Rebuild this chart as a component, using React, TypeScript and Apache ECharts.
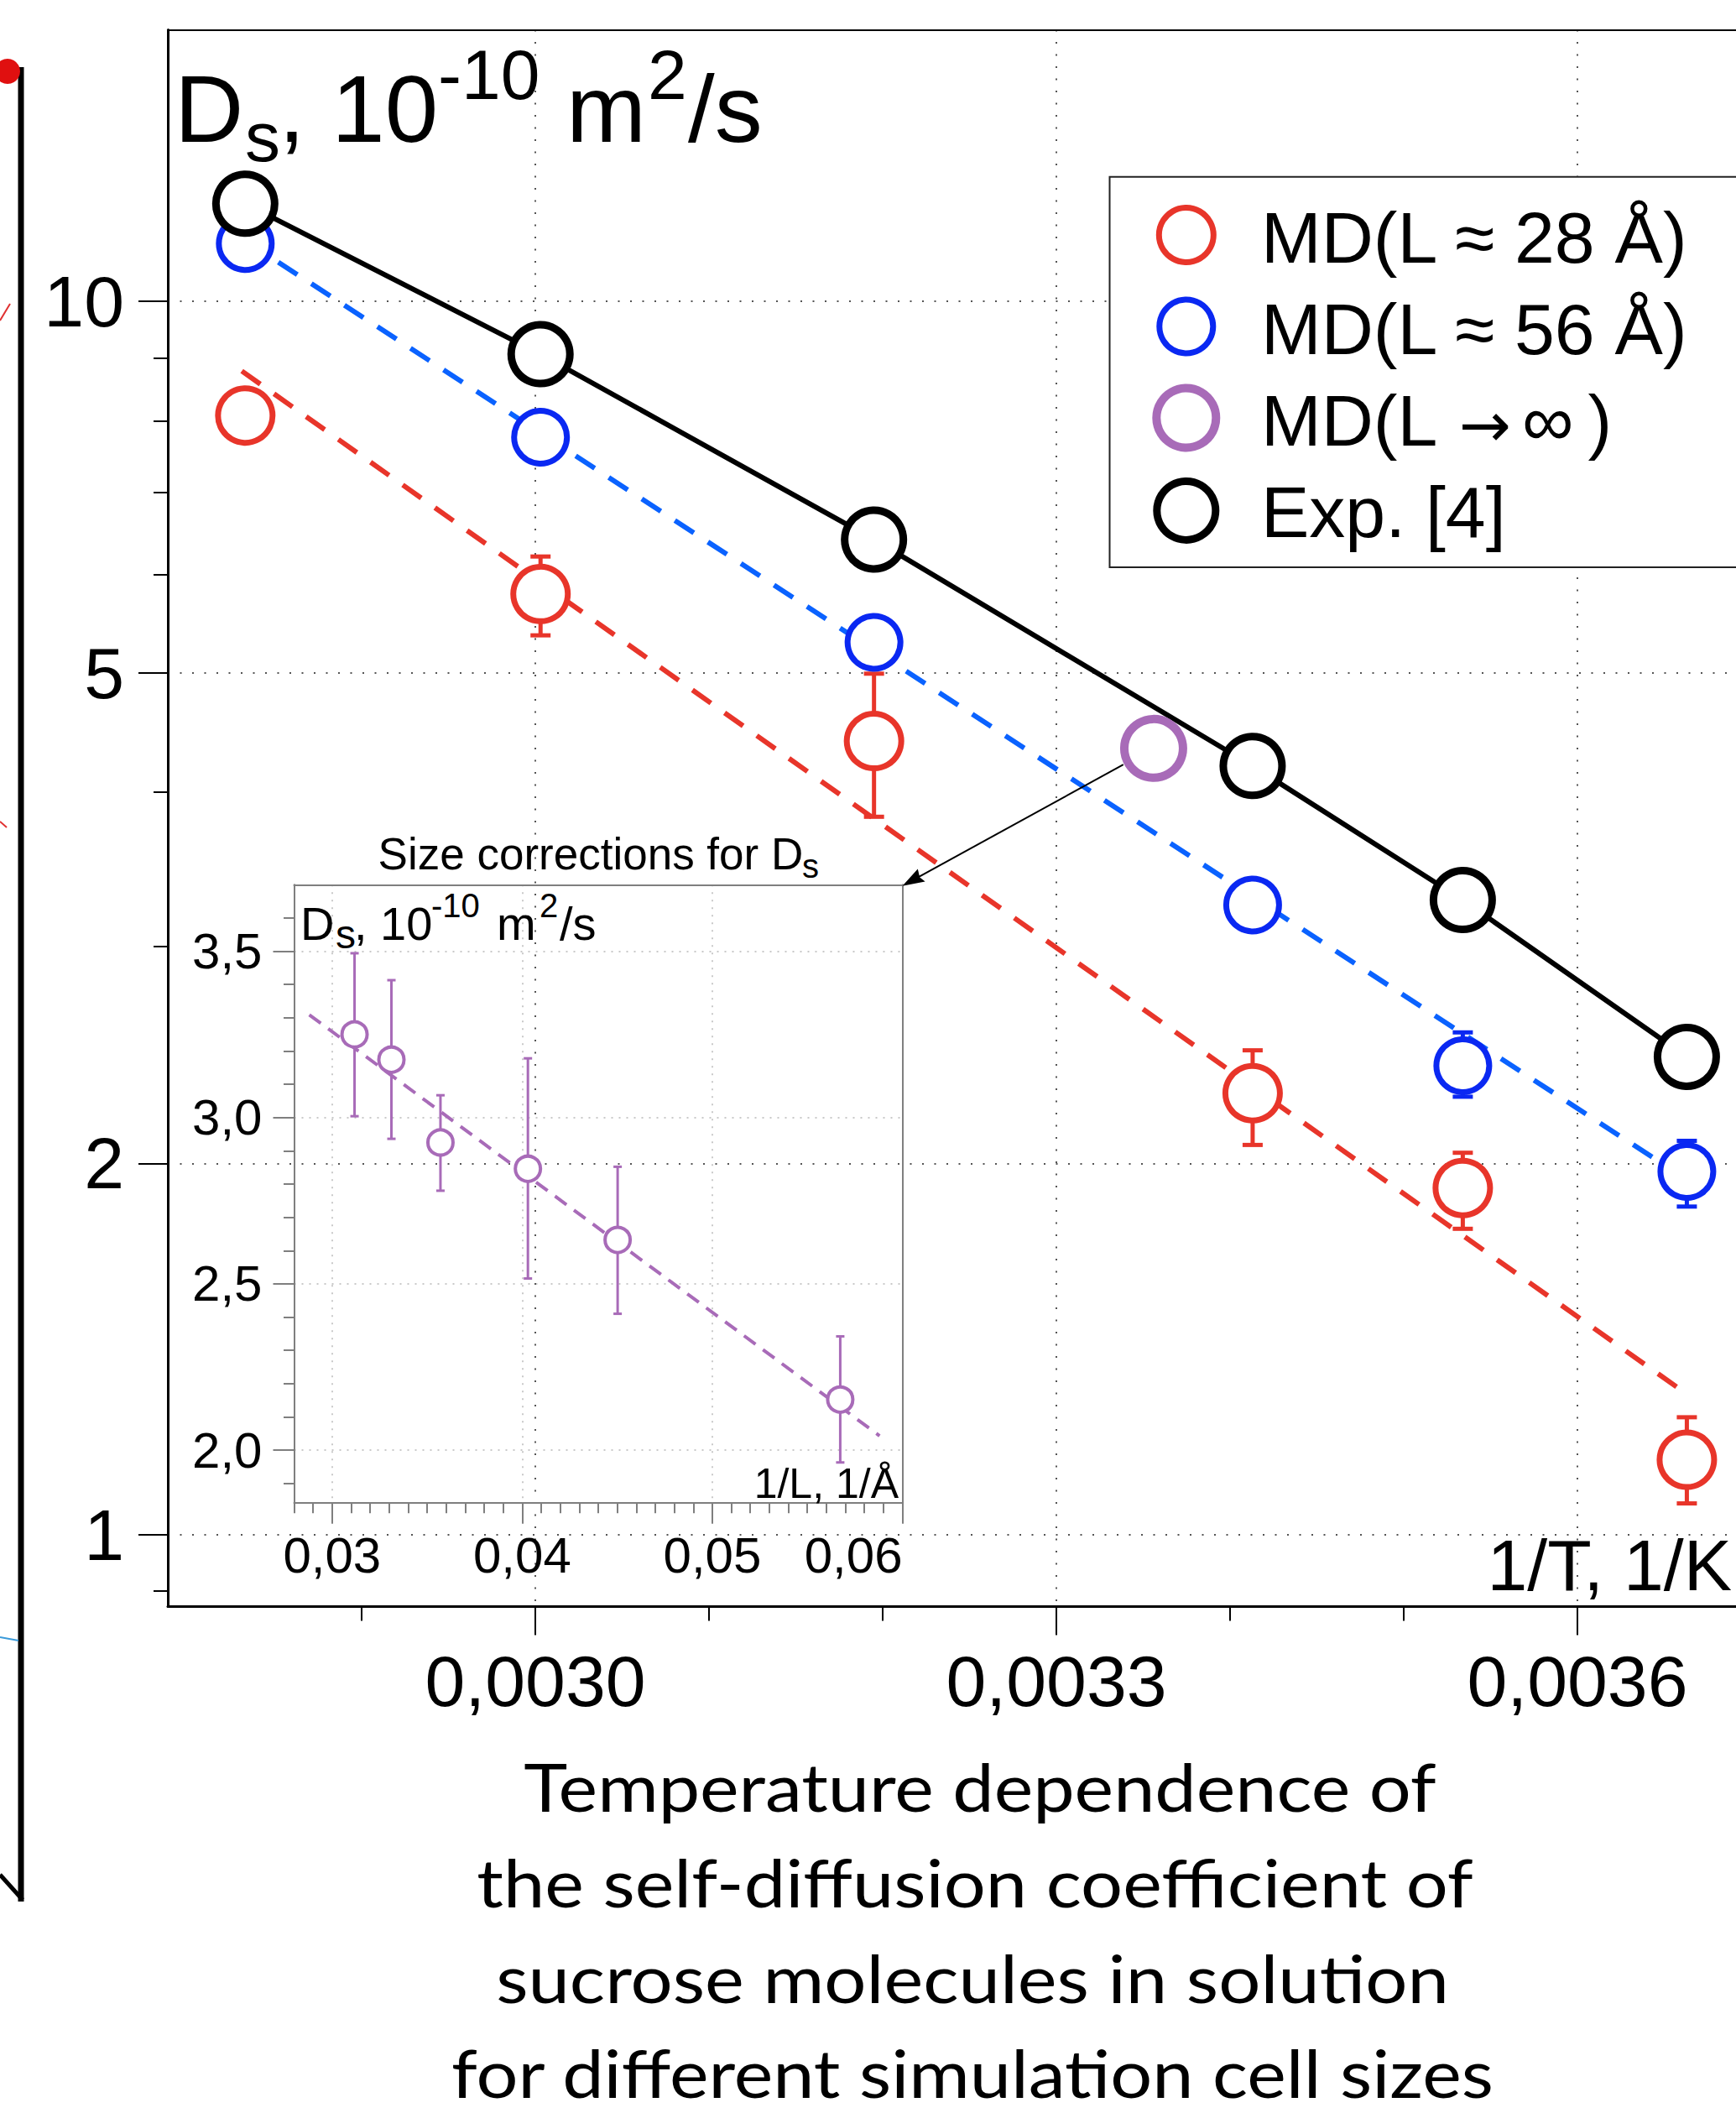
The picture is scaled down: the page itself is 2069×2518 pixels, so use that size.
import React, { useEffect, useRef } from 'react';
import * as echarts from 'echarts';

// ---------------- data ----------------
// main chart: x = 1/T (1/K), y = Ds (1e-10 m^2/s), log scale
const invT = [0.002833, 0.003003, 0.003195, 0.003413, 0.003534, 0.003663];
const dsExp = [12.0, 9.06, 6.41, 4.2, 3.27, 2.44];
const dsL56 = [11.14, 7.76, 5.29, 3.24, 2.4, 1.97];
const dsL28 = [8.08, 5.79, 4.4, 2.28, 1.91, 1.15];
const errL28Low = [null, 5.36, 3.82, 2.07, 1.77, 1.06];
const errL28High = [null, 6.21, 4.99, 2.47, 2.04, 1.245];
const errL56Low = [null, null, null, null, 2.265, 1.845];
const errL56High = [null, null, null, null, 2.554, 2.086];
const fitL28X = [0.002831, 0.003663];
const fitL28Y = [8.78, 1.3];
const fitL56X = [0.002833, 0.003663];
const fitL56Y = [11.2, 1.94];
const invTInf = [0.003356];
const dsInf = [4.34];

// inset: x = 1/L (1/Å), y = Ds
const invL = [0.03118, 0.03312, 0.0357, 0.0403, 0.04502, 0.05673];
const dsSize = [3.25, 3.174, 2.925, 2.846, 2.632, 2.152];
const dsSizeLow = [3.004, 2.936, 2.78, 2.516, 2.41, 1.963];
const dsSizeHigh = [3.494, 3.413, 3.067, 3.178, 2.852, 2.342];
const fitSizeX = [0.0288, 0.0588];
const fitSizeY = [3.309, 2.043];

// axes ranges and ticks
const mainXRange = [0.0027884, 0.0036913];
const mainYRange = [0.8743, 16.6];
const mainXMajor = [0.003, 0.0033, 0.0036];
const mainXMinor = [0.0029, 0.0031, 0.0032, 0.0034, 0.0035];
const mainYMajor = [1, 2, 5, 10];
const mainYMinor = [0.9, 3, 4, 6, 7, 8, 9];

const insetXRange = [0.028, 0.06];
const insetYRange = [1.842, 3.7];
const insetXMajor = [0.03, 0.04, 0.05, 0.06];
const insetXLabels = [0.03, 0.04, 0.05];
const insetXEdgeLabel = [0.06];
const insetXMinor = [
  0.028, 0.029, 0.031, 0.032, 0.033, 0.034, 0.035, 0.036, 0.037, 0.038, 0.039,
  0.041, 0.042, 0.043, 0.044, 0.045, 0.046, 0.047, 0.048, 0.049,
  0.051, 0.052, 0.053, 0.054, 0.055, 0.056, 0.057, 0.058, 0.059,
];
const insetYMajor = [2.0, 2.5, 3.0, 3.5];
const insetYMinor = [1.9, 2.1, 2.2, 2.3, 2.4, 2.6, 2.7, 2.8, 2.9, 3.1, 3.2, 3.3, 3.4, 3.6];

const legendLabels = ['MD(L \u2248 28 \u00C5)', 'MD(L \u2248 56 \u00C5)', 'MD(L \u2192 \u221E )', 'Exp. [4]'];
const captionLines = [
  'Temperature dependence of',
  'the self-diffusion coefficient of',
  'sucrose molecules in solution',
  'for different simulation cell sizes',
];

// ---------------- styling ----------------
const FONT = 'Liberation Sans';
const RED = '#e8352a';
const BLUE_C = '#0a28f2';
const BLUE_L = '#0a62ff';
const PURPLE = '#a86bb8';
const GRAY = '#7f7f7f';

const comma = (v: number, d: number) => v.toFixed(d).replace('.', ',');

function errorBars(xs: number[], lo: (number | null)[], hi: (number | null)[], color: string, lw: number, cap: number, xi: number, yi: number, z: number) {
  const data = xs.map((x, i) => [x, lo[i], hi[i]]).filter((d) => d[1] != null);
  return {
    type: 'custom',
    xAxisIndex: xi,
    yAxisIndex: yi,
    z,
    silent: true,
    encode: { x: 0, y: [1, 2] },
    data,
    renderItem: (_p: any, api: any) => {
      const x = api.value(0);
      const a = api.coord([x, api.value(1)]);
      const b = api.coord([x, api.value(2)]);
      const style = { stroke: color, lineWidth: lw, fill: 'none' };
      return {
        type: 'group',
        children: [
          { type: 'line', shape: { x1: a[0], y1: a[1], x2: b[0], y2: b[1] }, style },
          { type: 'line', shape: { x1: a[0] - cap, y1: a[1], x2: a[0] + cap, y2: a[1] }, style },
          { type: 'line', shape: { x1: b[0] - cap, y1: b[1], x2: b[0] + cap, y2: b[1] }, style },
        ],
      };
    },
  };
}

function axis(kind: 'value' | 'log', grid: number, range: number[], position: string, opts: any) {
  const a: any = {
    type: kind,
    gridIndex: grid,
    min: range[0],
    max: range[1],
    position,
    axisLine: { show: false, onZero: false },
    axisTick: { show: false },
    axisLabel: { show: false },
    splitLine: { show: false },
    minorTick: { show: false },
    minorSplitLine: { show: false },
  };
  if (kind === 'log') a.logBase = 10;
  return Object.assign(a, opts);
}

function txt(text: string, x: number, y: number, fontSize: number, extra: any = {}) {
  return {
    type: 'text',
    x,
    y,
    z: 20,
    silent: true,
    style: {
      text,
      fontSize,
      fontFamily: extra.fontFamily || FONT,
      fill: '#000',
      align: extra.align || 'left',
      textAlign: extra.align || 'left',
      verticalAlign: 'middle',
      textVerticalAlign: 'middle',
    },
    ...(extra.scaleX ? { scaleX: extra.scaleX } : {}),
  };
}

export default function App() {
  const ref = useRef<HTMLDivElement>(null);

  useEffect(() => {
    if (!ref.current) return;
    const chart = echarts.init(ref.current, null, { renderer: 'svg' });

    // caption: Calibri-like look with Lato, width fitted
    const capFs = 79;
    const capCx = [1168, 1162, 1159, 1159];
    const capBase = [2159, 2273, 2387, 2500];
    const capW = [1088, 1188, 1136, 1244];
    const ctx = document.createElement('canvas').getContext('2d')!;
    ctx.font = `${capFs}px Lato`;
    const captionEls = captionLines.map((line, i) => {
      const w = ctx.measureText(line).width || capW[i];
      return txt(line, capCx[i], capBase[i] - 0.39 * capFs, capFs, {
        fontFamily: 'Lato',
        align: 'center',
        scaleX: capW[i] / w,
      });
    });

    // main title pieces (big 114, small 84)
    const yB = 129.8, ySub = 163.2, ySup = 88.6;
    const titleEls = [
      txt('D', 208, yB, 114),
      txt('s', 292, ySub, 84),
      txt(', 10', 332, yB, 114),
      txt('-10', 522, ySup, 84),
      txt('m', 675, yB, 114),
      txt('2', 772, ySup, 84),
      txt('/s', 820, yB, 114),
    ];
    // inset titles
    const iB = 1100.6, iSub = 1113.4, iSup = 1079.4;
    const insetTitleEls = [
      txt('Size corrections for D', 450.6, 1017.2, 53),
      txt('s', 956, 1032, 40),
      txt('D', 358, iB, 56),
      txt('s', 400, iSub, 48),
      txt(', 10', 422, iB, 56),
      txt('-10', 514, iSup, 40),
      txt('m', 592, iB, 56),
      txt('2', 643, iSup, 40),
      txt('/s', 667, iB, 56),
      txt('1/L, 1/\u00C5', 1071, 1767.7, 50, { align: 'right' }),
      txt('1/T, 1/K', 2064, 1865.2, 86, { align: 'right' }),
    ];

    // legend (drawn)
    const legFs = 86;
    const legColors = [RED, BLUE_C, PURPLE, '#000'];
    const legR = [32.5, 32, 35.5, 35];
    const legW = [7, 7, 10, 9];
    const legCy = [280, 389, 498, 608.4];
    const legTextY = [283.1, 392.1, 501.2, 610.2];
    const legendEls: any[] = [
      {
        type: 'rect',
        z: 15,
        silent: true,
        shape: { x: 1322.5, y: 210.7, width: 900, height: 465.3 },
        style: { fill: '#fff', stroke: '#222', lineWidth: 2 },
      },
    ];
    legendLabels.forEach((lab, i) => {
      legendEls.push({
        type: 'circle',
        z: 16,
        silent: true,
        shape: { cx: 1413.8, cy: legCy[i], r: legR[i] },
        style: { fill: '#fff', stroke: legColors[i], lineWidth: legW[i] },
      });
      if (i === 2) {
        // "MD(L", arrow, "∞ )" set separately so the arrow keeps its size
        const parts = lab.split(' ');
        legendEls.push(txt(parts[0], 1503, legTextY[i], legFs));
        legendEls.push(txt(parts[1], 1739, 506, 74, { fontFamily: 'DejaVu Sans' }));
        legendEls.push(txt(parts[2] + '\u2009' + parts[3], 1814, legTextY[i], legFs));
      } else {
        legendEls.push(txt(lab, 1503, legTextY[i], legFs));
      }
    });

    // arrow from the L->inf point to the inset
    const arrowEls = [
      {
        type: 'line',
        z: 12,
        silent: true,
        shape: { x1: 1338.8, y1: 911.2, x2: 1092, y2: 1046.6 },
        style: { stroke: '#000', lineWidth: 2 },
      },
      {
        type: 'polygon',
        z: 12,
        silent: true,
        shape: { points: [[1075.5, 1055.7], [1102.6, 1050.6], [1096.2, 1045.5], [1093.8, 1035.6]] },
        style: { fill: '#000' },
      },
    ];

    // fragment of the neighbouring figure at the left edge
    const leftEls = [
      { type: 'line', z: 1, silent: true, shape: { x1: 25, y1: 80, x2: 25, y2: 2266 }, style: { stroke: '#000', lineWidth: 7 } },
      { type: 'line', z: 1, silent: true, shape: { x1: 0, y1: 2234, x2: 27, y2: 2264 }, style: { stroke: '#000', lineWidth: 5 } },
      { type: 'circle', z: 2, silent: true, shape: { cx: 9, cy: 85, r: 15 }, style: { fill: '#e01010' } },
      { type: 'line', z: 2, silent: true, shape: { x1: 0, y1: 382, x2: 12, y2: 362 }, style: { stroke: '#e03030', lineWidth: 2 } },
      { type: 'line', z: 2, silent: true, shape: { x1: 0, y1: 979, x2: 8, y2: 986 }, style: { stroke: '#e03030', lineWidth: 2 } },
      { type: 'line', z: 2, silent: true, shape: { x1: 0, y1: 1951, x2: 22, y2: 1955 }, style: { stroke: '#3a9ad9', lineWidth: 2 } },
    ];

    const mainSplit = { show: true, lineStyle: { color: '#555', width: 2, type: [2, 12.5] } };
    const insetSplit = { show: true, lineStyle: { color: '#b8b8b8', width: 1.5, type: [2, 7] } };
    const mainLabel = (vals: number[], fmt: (v: number) => string, margin: number) => ({
      show: true,
      customValues: vals,
      formatter: fmt,
      fontSize: 86,
      fontFamily: FONT,
      color: '#000',
      margin,
      showMinLabel: true,
      showMaxLabel: true,
      hideOverlap: false,
    });
    const insetLabel = (vals: number[], fmt: (v: number) => string, margin: number, align?: string) => ({
      show: true,
      customValues: vals,
      formatter: fmt,
      fontSize: 60,
      fontFamily: FONT,
      color: '#000',
      margin,
      showMinLabel: true,
      showMaxLabel: true,
      hideOverlap: false,
      ...(align ? { align } : {}),
    });

    const option: any = {
      animation: false,
      backgroundColor: '#fff',
      grid: [
        { left: 200, top: 35.6, right: 0, bottom: 603.5, containLabel: false, outerBoundsMode: 'none' },
        { left: 350.5, top: 1054.3, width: 725, height: 736.4, containLabel: false, outerBoundsMode: 'none' },
      ],
      xAxis: [
        axis('value', 0, mainXRange, 'bottom', {
          axisLine: { show: true, onZero: false, lineStyle: { color: '#000', width: 3 } },
          axisTick: { show: true, customValues: mainXMajor, length: 34, lineStyle: { color: '#000', width: 2 } },
          axisLabel: mainLabel(mainXMajor, (v: number) => comma(v, 4), 45),
          splitLine: mainSplit,
        }),
        axis('value', 0, mainXRange, 'bottom', {
          axisTick: { show: true, customValues: mainXMinor, length: 17, lineStyle: { color: '#000', width: 2 } },
        }),
        axis('value', 0, mainXRange, 'top', {
          axisLine: { show: true, onZero: false, lineStyle: { color: '#000', width: 2 } },
        }),
        axis('value', 1, insetXRange, 'bottom', {
          axisLine: { show: true, onZero: false, lineStyle: { color: GRAY, width: 2 } },
          axisTick: { show: true, customValues: insetXMajor, length: 25, lineStyle: { color: GRAY, width: 2 } },
          axisLabel: insetLabel(insetXLabels, (v: number) => comma(v, 2), 33),
          splitLine: insetSplit,
        }),
        axis('value', 1, insetXRange, 'bottom', {
          axisTick: { show: true, customValues: insetXMinor, length: 12.5, lineStyle: { color: GRAY, width: 2 } },
          axisLabel: insetLabel(insetXEdgeLabel, (v: number) => comma(v, 2), 33, 'right'),
        }),
        axis('value', 1, insetXRange, 'top', {
          axisLine: { show: true, onZero: false, lineStyle: { color: GRAY, width: 2 } },
        }),
      ],
      yAxis: [
        axis('log', 0, mainYRange, 'left', {
          axisLine: { show: true, onZero: false, lineStyle: { color: '#000', width: 3 } },
          axisTick: { show: true, customValues: mainYMajor, length: 35, lineStyle: { color: '#000', width: 2 } },
          axisLabel: mainLabel(mainYMajor, (v: number) => String(Math.round(v)), 52),
          splitLine: mainSplit,
        }),
        axis('log', 0, mainYRange, 'left', {
          axisTick: { show: true, customValues: mainYMinor, length: 17, lineStyle: { color: '#000', width: 2 } },
        }),
        axis('value', 1, insetYRange, 'left', {
          axisLine: { show: true, onZero: false, lineStyle: { color: GRAY, width: 2 } },
          axisTick: { show: true, customValues: insetYMajor, length: 25, lineStyle: { color: GRAY, width: 2 } },
          axisLabel: insetLabel(insetYMajor, (v: number) => comma(v, 1), 38),
          splitLine: insetSplit,
        }),
        axis('value', 1, insetYRange, 'left', {
          axisTick: { show: true, customValues: insetYMinor, length: 12.5, lineStyle: { color: GRAY, width: 2 } },
        }),
        axis('value', 1, insetYRange, 'right', {
          axisLine: { show: true, onZero: false, lineStyle: { color: GRAY, width: 2 } },
        }),
      ],
      series: [
        {
          type: 'line',
          name: 'fit28',
          xAxisIndex: 0,
          yAxisIndex: 0,
          z: 2,
          symbol: 'none',
          silent: true,
          data: fitL28X.map((x, i) => [x, fitL28Y[i]]),
          lineStyle: { color: RED, width: 6, type: [27, 20] },
        },
        {
          type: 'line',
          name: 'fit56',
          xAxisIndex: 0,
          yAxisIndex: 0,
          z: 2,
          symbol: 'none',
          silent: true,
          data: fitL56X.map((x, i) => [x, fitL56Y[i]]),
          lineStyle: { color: BLUE_L, width: 6, type: [27, 20] },
        },
        errorBars(invT, errL28Low, errL28High, RED, 5, 12, 0, 0, 3),
        errorBars(invT, errL56Low, errL56High, BLUE_C, 5, 12, 0, 0, 3),
        {
          type: 'scatter',
          name: legendLabels[0],
          xAxisIndex: 0,
          yAxisIndex: 0,
          z: 4,
          symbol: 'circle',
          symbolSize: 65,
          data: invT.map((x, i) => [x, dsL28[i]]),
          itemStyle: { color: '#fff', borderColor: RED, borderWidth: 7, opacity: 1 },
        },
        {
          type: 'scatter',
          name: legendLabels[1],
          xAxisIndex: 0,
          yAxisIndex: 0,
          z: 4,
          symbol: 'circle',
          symbolSize: 63,
          data: invT.map((x, i) => [x, dsL56[i]]),
          itemStyle: { color: '#fff', borderColor: BLUE_C, borderWidth: 7, opacity: 1 },
        },
        {
          type: 'line',
          name: legendLabels[3],
          xAxisIndex: 0,
          yAxisIndex: 0,
          z: 5,
          symbol: 'circle',
          symbolSize: 70,
          showAllSymbol: true,
          data: invT.map((x, i) => [x, dsExp[i]]),
          lineStyle: { color: '#000', width: 6 },
          itemStyle: { color: '#fff', borderColor: '#000', borderWidth: 9, opacity: 1 },
        },
        {
          type: 'scatter',
          name: legendLabels[2],
          xAxisIndex: 0,
          yAxisIndex: 0,
          z: 6,
          symbol: 'circle',
          symbolSize: 70,
          data: invTInf.map((x, i) => [x, dsInf[i]]),
          itemStyle: { color: '#fff', borderColor: PURPLE, borderWidth: 10, opacity: 1 },
        },
        {
          type: 'line',
          name: 'fitSize',
          xAxisIndex: 3,
          yAxisIndex: 2,
          z: 2,
          symbol: 'none',
          silent: true,
          data: fitSizeX.map((x, i) => [x, fitSizeY[i]]),
          lineStyle: { color: PURPLE, width: 4, type: [17, 11] },
        },
        errorBars(invL, dsSizeLow, dsSizeHigh, PURPLE, 3, 5, 3, 2, 3),
        {
          type: 'scatter',
          name: 'size',
          xAxisIndex: 3,
          yAxisIndex: 2,
          z: 4,
          symbol: 'circle',
          symbolSize: 30,
          data: invL.map((x, i) => [x, dsSize[i]]),
          itemStyle: { color: '#fff', borderColor: PURPLE, borderWidth: 4, opacity: 1 },
        },
      ],
      graphic: { elements: [...leftEls, ...titleEls, ...insetTitleEls, ...legendEls, ...arrowEls, ...captionEls] },
    };

    chart.setOption(option);
    return () => chart.dispose();
  }, []);

  return (
    <div
      ref={ref}
      style={{ position: 'absolute', left: 0, top: 0, width: 2069, height: 2518, background: '#fff' }}
    />
  );
}
